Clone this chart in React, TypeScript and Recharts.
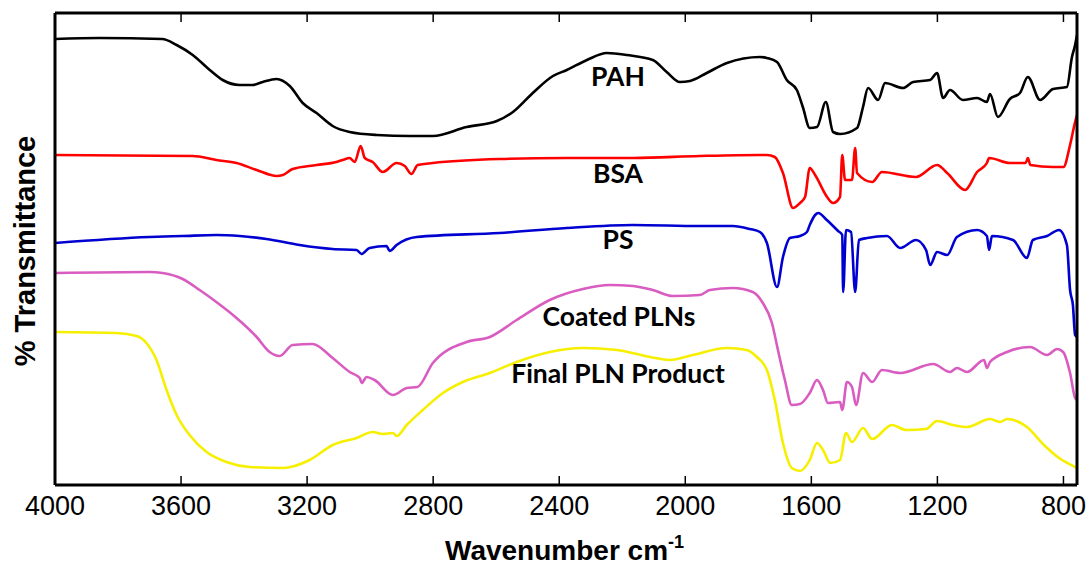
import React from 'react';
import { LineChart, Line, XAxis, YAxis } from 'recharts';

type P = [number, number];

const xTicks = [4000, 3600, 3200, 2800, 2400, 2000, 1600, 1200, 800];
const seriesNames = ['PAH', 'BSA', 'PS', 'Coated PLNs', 'Final PLN Product'];

const pah: P[] = [
  [4000, 44.6], [3860, 44.7], [3660, 44.6], [3614, 44.0], [3563, 43.0], [3509, 41.5], [3468, 40.5],
  [3414, 40.0], [3373, 40.0], [3341, 40.3], [3297, 40.6], [3255, 39.9], [3214, 38.2], [3170, 37.2],
  [3119, 35.9], [3065, 35.3], [2979, 35.0], [2875, 34.9], [2801, 34.9], [2694, 35.8], [2598, 36.4],
  [2547, 37.3], [2484, 39.2], [2420, 40.9], [2376, 41.5], [2312, 42.5], [2249, 43.2], [2185, 43.0],
  [2103, 42.5], [2059, 41.3], [2017, 40.3], [1985, 40.4], [1932, 41.2], [1868, 42.2], [1763, 42.8],
  [1741, 42.7], [1709, 42.3], [1678, 40.5], [1646, 39.5], [1627, 37.8], [1605, 35.7], [1582, 35.8],
  [1554, 38.3], [1531, 35.3], [1509, 35.1], [1455, 35.7], [1436, 37.8], [1420, 39.7], [1388, 38.5],
  [1366, 40.2], [1309, 39.7], [1277, 40.3], [1223, 40.5], [1201, 41.2], [1182, 38.7], [1160, 39.5],
  [1119, 38.5], [1074, 38.7], [1043, 38.3], [1033, 39.1], [1008, 36.8], [970, 38.6], [938, 39.2],
  [913, 40.8], [874, 38.5], [833, 39.6], [789, 39.8], [773, 42.8], [763, 44.0], [757, 45.0],
];

const bsa: P[] = [
  [4000, 33.0], [3563, 32.9], [3488, 32.5], [3424, 32.2], [3360, 31.5], [3297, 30.9], [3277, 31.0],
  [3246, 31.6], [3170, 32.0], [3107, 32.3], [3087, 32.5], [3065, 32.7], [3049, 32.3], [3030, 33.9],
  [3017, 32.7], [2992, 32.3], [2960, 31.3], [2916, 32.2], [2890, 31.9], [2869, 31.1], [2849, 32.0],
  [2801, 32.2], [2589, 32.6], [2376, 32.7], [2166, 32.7], [1954, 32.9], [1763, 33.0], [1741, 33.0],
  [1716, 32.8], [1690, 31.2], [1658, 27.7], [1636, 28.2], [1620, 28.8], [1605, 31.7], [1588, 31.0],
  [1550, 28.8], [1531, 28.2], [1509, 28.8], [1502, 33.0], [1493, 30.5], [1471, 30.5], [1461, 33.7],
  [1455, 31.2], [1407, 30.3], [1376, 31.3], [1268, 30.8], [1201, 32.0], [1169, 31.2], [1112, 29.5],
  [1074, 31.3], [1043, 32.2], [1036, 32.7], [970, 32.2], [920, 32.2], [913, 32.7], [905, 32.0],
  [833, 31.8], [800, 31.8], [779, 34.0], [763, 36.3], [757, 37.0],
];

const ps: P[] = [
  [4000, 24.2], [3700, 24.8], [3595, 24.9], [3488, 25.0], [3414, 24.9], [3329, 24.6], [3224, 24.0],
  [3119, 23.6], [3043, 23.5], [3027, 23.1], [3002, 23.7], [2948, 23.9], [2938, 23.4], [2916, 24.0],
  [2852, 24.8], [2589, 25.2], [2376, 25.7], [2166, 26.0], [1954, 25.9], [1849, 25.9], [1795, 25.6],
  [1763, 25.3], [1741, 24.2], [1709, 19.8], [1690, 22.8], [1668, 24.7], [1636, 24.9], [1614, 25.3],
  [1605, 26.0], [1588, 27.0], [1578, 27.2], [1551, 26.5], [1515, 25.4], [1502, 25.0], [1499, 19.3],
  [1490, 25.5], [1474, 25.3], [1461, 19.3], [1449, 24.5], [1423, 24.7], [1360, 24.9], [1318, 23.7],
  [1268, 24.5], [1236, 23.5], [1223, 22.0], [1201, 23.3], [1169, 23.0], [1138, 24.8], [1074, 25.5],
  [1043, 24.9], [1036, 23.5], [1027, 24.9], [960, 24.5], [916, 22.7], [897, 24.5], [852, 24.9],
  [814, 25.5], [789, 24.0], [779, 19.5], [770, 18.0], [763, 15.0], [757, 14.8],
];

const coated: P[] = [
  [4000, 21.2], [3700, 21.3], [3659, 21.2], [3595, 20.6], [3541, 19.5], [3488, 18.3], [3424, 16.7],
  [3360, 14.8], [3319, 13.3], [3287, 12.9], [3246, 14.0], [3183, 14.1], [3119, 12.7], [3065, 11.3],
  [3033, 10.7], [3027, 10.2], [3011, 10.8], [2986, 10.5], [2928, 9.0], [2884, 9.7], [2850, 9.8],
  [2801, 12.2], [2694, 14.3], [2620, 14.8], [2535, 16.5], [2430, 18.5], [2325, 19.6], [2239, 20.0],
  [2166, 19.9], [2103, 19.5], [2039, 18.9], [1954, 19.0], [1922, 19.5], [1849, 19.7], [1786, 19.3],
  [1754, 18.2], [1725, 16.2], [1706, 13.5], [1684, 10.5], [1662, 8.0], [1636, 8.1], [1605, 9.2],
  [1582, 10.5], [1563, 9.5], [1547, 8.2], [1509, 8.3], [1502, 7.5], [1487, 10.3], [1471, 9.8],
  [1458, 8.0], [1436, 11.2], [1407, 10.3], [1376, 11.5], [1318, 11.2], [1213, 12.1], [1160, 11.3],
  [1138, 11.7], [1106, 11.3], [1052, 12.5], [1043, 11.7], [1033, 12.3], [979, 13.3], [906, 13.8],
  [852, 13.0], [820, 13.6], [801, 13.3], [779, 11.2], [763, 8.7], [757, 8.5],
];

const finalPln: P[] = [
  [4000, 15.3], [3805, 15.2], [3741, 14.9], [3710, 14.2], [3678, 12.5], [3646, 9.5], [3614, 7.0],
  [3573, 5.0], [3519, 3.3], [3456, 2.3], [3382, 1.8], [3277, 1.7], [3192, 2.5], [3119, 4.0],
  [3043, 4.7], [2992, 5.3], [2960, 5.1], [2928, 5.2], [2916, 4.9], [2884, 6.0], [2833, 7.5],
  [2769, 9.2], [2706, 10.3], [2620, 11.2], [2535, 12.3], [2430, 13.3], [2325, 13.7], [2217, 13.5],
  [2112, 12.8], [2049, 12.5], [1976, 13.0], [1868, 13.7], [1805, 13.5], [1773, 12.8], [1741, 11.5],
  [1716, 8.5], [1690, 4.2], [1662, 1.7], [1636, 1.4], [1605, 2.5], [1582, 4.2], [1563, 3.5],
  [1540, 2.2], [1509, 2.5], [1490, 5.2], [1471, 4.3], [1436, 5.7], [1407, 4.6], [1344, 6.0],
  [1299, 5.5], [1236, 5.6], [1201, 6.4], [1150, 6.0], [1106, 5.8], [1033, 6.6], [1001, 6.3],
  [979, 6.6], [916, 5.8], [862, 4.0], [814, 2.7], [763, 1.8], [757, 1.7],
];

const seriesData: P[][] = [pah, bsa, ps, coated, finalPln];
const seriesColors = ['#000000', '#ff0000', '#0000d0', '#d95cc0', '#f7ef00'];

const toRows = (pts: P[]) => pts.map(([w, t]) => ({ w, t }));

const AXIS_FONT = '"Liberation Sans", Arial, sans-serif';
const LABEL_FONT = 'Lato, "Open Sans", sans-serif';

const BottomTick = (props: any) => {
  const { x, y, payload } = props;
  return (
    <g>
      <line x1={x} y1={y} x2={x} y2={y - 9} stroke="#000" strokeWidth={1.5} />
      <text x={x} y={y + 30} textAnchor="middle" fontFamily={AXIS_FONT} fontSize={27} fill="#000">
        {payload.value}
      </text>
    </g>
  );
};

const TopTick = (props: any) => {
  const { x, y } = props;
  return <line x1={x} y1={y} x2={x} y2={y + 9} stroke="#000" strokeWidth={1.5} />;
};

// label anchor points (centre x, baseline y) for annotations
const labelPos: [number, number][] = [
  [618, 86], [618, 183], [618, 249], [619, 326], [618, 383],
];

export default function App() {
  const axisLine = { stroke: '#000', strokeWidth: 3 };
  return (
    <div style={{ position: 'absolute', left: 0, top: 0, width: 1090, height: 570, background: '#fff' }}>
      <LineChart width={1090} height={570} margin={{ top: 12, right: 12, bottom: 0, left: 54 }}>
        <XAxis
          xAxisId="b"
          type="number"
          dataKey="w"
          domain={[757, 4000]}
          reversed
          allowDataOverflow
          ticks={xTicks}
          interval={0}
          height={85}
          tickSize={0}
          tickMargin={0}
          tickLine={false}
          axisLine={axisLine}
          tick={<BottomTick />}
        />
        <XAxis
          xAxisId="t"
          orientation="top"
          type="number"
          dataKey="w"
          domain={[757, 4000]}
          reversed
          allowDataOverflow
          ticks={xTicks}
          interval={0}
          height={1}
          tickSize={0}
          tickMargin={0}
          tickLine={false}
          axisLine={axisLine}
          tick={<TopTick />}
        />
        <YAxis yAxisId="l" type="number" domain={[0, 47.2]} width={1} tick={false} tickLine={false} axisLine={axisLine} allowDataOverflow />
        <YAxis yAxisId="r" orientation="right" type="number" domain={[0, 47.2]} width={1} tick={false} tickLine={false} axisLine={axisLine} allowDataOverflow />
        {seriesData.map((d, i) => (
          <Line
            key={seriesNames[i]}
            xAxisId="b"
            yAxisId="l"
            data={toRows(d)}
            dataKey="t"
            type="monotone"
            stroke={seriesColors[i]}
            strokeWidth={2.6}
            dot={false}
            activeDot={false}
            isAnimationActive={false}
          />
        ))}
      </LineChart>
      <svg width={1090} height={570} style={{ position: 'absolute', left: 0, top: 0, pointerEvents: 'none' }}>
        {seriesNames.map((n, i) => (
          <text key={n} x={labelPos[i][0]} y={labelPos[i][1]} textAnchor="middle" fontFamily={LABEL_FONT} fontWeight="bold" fontSize={26.5} fill="#000">
            {n}
          </text>
        ))}
        <text x={35} y={251} transform="rotate(-90 35 251)" textAnchor="middle" fontFamily={AXIS_FONT} fontWeight="bold" fontSize={29} fill="#000">
          % Transmittance
        </text>
        <text x={445} y={560} fontFamily={AXIS_FONT} fontWeight="bold" fontSize={28} fill="#000">
          Wavenumber cm
          <tspan dy={-12} fontSize={18}>-1</tspan>
        </text>
      </svg>
    </div>
  );
}
